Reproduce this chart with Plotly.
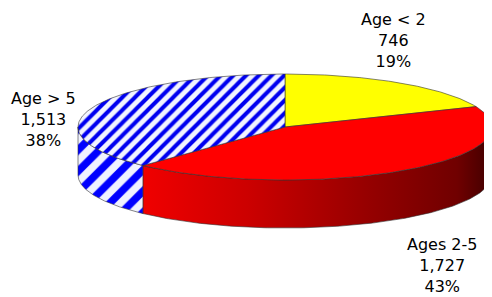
import numpy as np
import plotly.graph_objects as go

categories = ["Age < 2", "Ages 2-5", "Age > 5"]
values = [746, 1727, 1513]
value_labels = ["746", "1,727", "1,513"]

# style (not data)
top_colors = ["#ffff00", "#ff0000", None]
label_pos = {"Age < 2": (393, 40), "Ages 2-5": (442, 265), "Age > 5": (43, 119)}

CX, CY, RX, RY, DEPTH = 285, 127, 207, 53, 48
OFF = 8  # page body margin

total = sum(values)
fracs = [v / total for v in values]

fig = go.Figure()

def arc(t0, t1, n=160):
    t = np.radians(np.linspace(t0, t1, n))
    return CX + RX * np.cos(t), CY - RY * np.sin(t)

# slice angles (clockwise from 12 o'clock)
angles = []
cum = 0.0
for f in fracs:
    a0 = 90 - cum * 360
    cum += f
    a1 = 90 - cum * 360
    angles.append((a0, a1))

# walls
for i, (a0, a1) in enumerate(angles):
    for shift in (0, -360):
        lo = max(a1, -180 + shift)
        hi = min(a0, 0 + shift)
        if lo >= hi:
            continue
        xs, ys = arc(hi, lo)
        x = np.concatenate([xs, xs[::-1], xs[:1]])
        y = np.concatenate([ys, ys[::-1] + DEPTH, ys[:1]])
        kw = {}
        if i == 2:
            kw["fillpattern"] = dict(shape="/", fgcolor="#0000ff", bgcolor="#f0f2ff",
                                     fgopacity=1, size=15, solidity=0.5)
            kw["fillcolor"] = "#f0f2ff"
        elif i == 1:
            kw["fillgradient"] = dict(type="horizontal",
                                      colorscale=[[0, "#f00000"], [0.3, "#cc0000"],
                                                  [0.65, "#950000"], [0.9, "#700000"],
                                                  [1, "#400000"]])
        else:
            kw["fillcolor"] = "#cccc00"
        fig.add_trace(go.Scatter(x=x, y=y, mode="lines", fill="toself",
                                 line=dict(color="#333333", width=0.6),
                                 hoverinfo="skip", showlegend=False, **kw))

# tops
for i, (a0, a1) in enumerate(angles):
    xs, ys = arc(a0, a1)
    x = np.concatenate([[CX], xs, [CX]])
    y = np.concatenate([[CY], ys, [CY]])
    kw = {}
    if i == 2:
        kw["fillpattern"] = dict(shape="/", fgcolor="#0000f0", bgcolor="#f2f4ff",
                                 fgopacity=1, size=9, solidity=0.45)
        kw["fillcolor"] = "#f2f4ff"
    else:
        kw["fillcolor"] = top_colors[i]
    fig.add_trace(go.Scatter(x=x, y=y, mode="lines", fill="toself",
                             line=dict(color="#333333", width=0.6),
                             hoverinfo="skip", showlegend=False,
                             name=categories[i], **kw))

for cat, v, vl in zip(categories, values, value_labels):
    pct = round(100 * v / total)
    lx, ly = label_pos[cat]
    fig.add_annotation(x=lx, y=ly, text=f"{cat}<br>{vl}<br>{pct}%", showarrow=False,
                       font=dict(family="DejaVu Sans", size=16, color="#000000"),
                       align="center", xref="x", yref="y")

fig.update_layout(
    width=492 - OFF, height=297 - OFF, margin=dict(l=0, r=0, t=0, b=0),
    paper_bgcolor="white", plot_bgcolor="white",
    xaxis=dict(range=[OFF, 492], visible=False, fixedrange=True),
    yaxis=dict(range=[297, OFF], visible=False, fixedrange=True),
    showlegend=False,
)
fig.write_html("out.html")
